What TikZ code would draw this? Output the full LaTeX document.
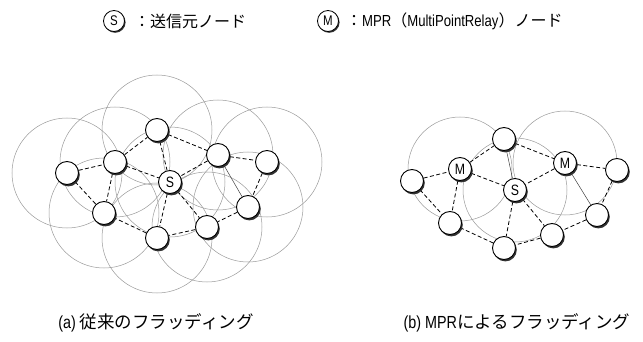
\documentclass[tikz,border=0pt]{standalone}
\usepackage{fontspec}
\setmainfont{Noto Sans CJK JP}
\newfontfamily\lat{Liberation Sans}[FakeStretch=0.82]
\usetikzlibrary{shadows}
\pgfdeclarelayer{bg}
\pgfsetlayers{bg,main}
\begin{document}
\begin{tikzpicture}[x=1pt,y=-1pt,
  nd/.style={circle,draw=black,line width=0.9pt,fill=white,minimum size=23pt,inner sep=0pt,
    font=\lat\fontsize{15}{15}\selectfont,
    general shadow={fill=black!80,shadow xshift=1.3pt,shadow yshift=-1.9pt}},
  lg/.style={circle,draw=black,line width=0.8pt,fill=white,minimum size=21pt,inner sep=0pt,
    font=\lat\fontsize{14}{14}\selectfont,
    general shadow={fill=black!80,shadow xshift=1.1pt,shadow yshift=-1.3pt}},
  rng/.style={draw=black!40,line width=0.5pt},
  lk/.style={draw=black,line width=0.8pt,dash pattern=on 4pt off 2.5pt},
  sl/.style={draw=black!75,line width=0.5pt},
  lgt/.style={anchor=west,inner sep=0pt,font=\fontsize{16}{16}\selectfont},
  captext/.style={inner sep=0pt,font=\fontsize{17.5}{17.5}\selectfont}]
\useasboundingbox (0,0) rectangle (643,342);

% legend
\node[lg] (lgS) at (114,21) {S};
\node[lgt] (lgSt) at (134,21) {：送信元ノード};
\node[lg] (lgM) at (328,21) {M};
\node[lgt] (lgMt) at (346,21) {：{\lat MPR}（{\lat MultiPointRelay}）ノード};

% left diagram nodes
\node[nd] (L1) at (157,130) {};
\node[nd] (L2) at (115,162) {};
\node[nd] (L3) at (67,173) {};
\node[nd] (LS) at (170,182) {S};
\node[nd] (L4) at (218,155) {};
\node[nd] (L5) at (267,162) {};
\node[nd] (L6) at (104,213) {};
\node[nd] (L7) at (157,238) {};
\node[nd] (L8) at (207,227) {};
\node[nd] (L9) at (248,207) {};

% right diagram nodes
\node[nd] (R1) at (504,139) {};
\node[nd] (RM1) at (460,169) {M};
\node[nd] (R3) at (412,181) {};
\node[nd] (RS) at (515,190) {S};
\node[nd] (RM2) at (565,163) {M};
\node[nd] (R5) at (617,170) {};
\node[nd] (R6) at (450,223) {};
\node[nd] (R7) at (504,248) {};
\node[nd] (R8) at (552,235) {};
\node[nd] (R9) at (597,215) {};

\begin{pgfonlayer}{bg}
  % ranges, left
  \foreach \n in {L1,L2,L3,LS,L4,L5,L6,L7,L8,L9}
    \draw[rng] (\n.center) circle[radius=55];
  % ranges, right
  \foreach \n in {RS,RM1,RM2}
    \draw[rng] (\n.center) circle[radius=52];
  % links, left
  \draw[lk] (L3) -- (L2);
  \draw[lk] (L3) -- (L6);
  \draw[lk] (L2) -- (L6);
  \draw[lk] (L2) -- (L1);
  \draw[lk] (L2) -- (LS);
  \draw[lk] (L1) -- (LS);
  \draw[lk] (L1) -- (L4);
  \draw[lk] (L4) -- (LS);
  \draw[lk] (L4) -- (L5);
  \draw[sl] (L4) -- (L9);
  \draw[lk] (L5) -- (L9);
  \draw[lk] (L9) -- (L8);
  \draw[lk] (L8) -- (L7);
  \draw[lk] (L7) -- (L6);
  \draw[lk] (LS) -- (L7);
  \draw[lk] (LS) -- (L8);
  % links, right
  \draw[lk] (R3) -- (RM1);
  \draw[lk] (R3) -- (R6);
  \draw[lk] (RM1) -- (R6);
  \draw[lk] (RM1) -- (R1);
  \draw[lk] (RM1) -- (RS);
  \draw[sl] (R1) -- (RS);
  \draw[lk] (R1) -- (RM2);
  \draw[lk] (RM2) -- (RS);
  \draw[lk] (RM2) -- (R5);
  \draw[sl] (RM2) -- (R9);
  \draw[lk] (R5) -- (R9);
  \draw[lk] (R9) -- (R8);
  \draw[lk] (R8) -- (R7);
  \draw[lk] (R7) -- (R6);
  \draw[lk] (RS) -- (R7);
  \draw[lk] (RS) -- (R8);
\end{pgfonlayer}

% captions
\node[captext] (capa) at (156,323) {{\lat (a)} 従来のフラッディング};
\node[captext] (capb) at (517,323) {{\lat (b) MPR}によるフラッディング};
\end{tikzpicture}
\end{document}
